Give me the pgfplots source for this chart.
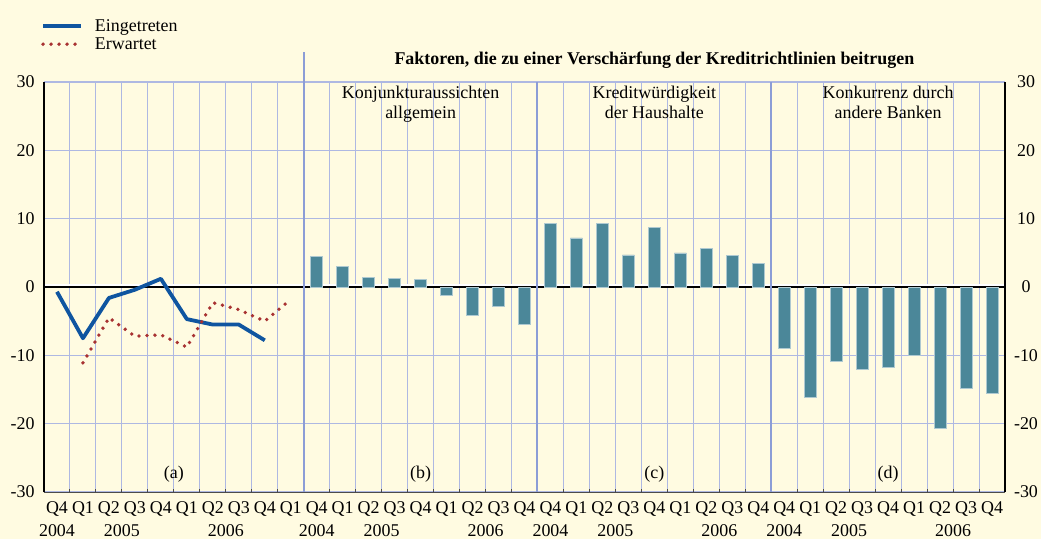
\documentclass[border=0pt]{standalone}
\usepackage{fontspec}
\setmainfont{Liberation Serif}
\usepackage{pgfplots}
\pgfplotsset{compat=1.18}

\definecolor{bg}{HTML}{FFFBE1}
\definecolor{gridblue}{HTML}{AEB8E2}
\definecolor{sepblue}{HTML}{8C9DD6}
\definecolor{barteal}{HTML}{4B8799}
\definecolor{lineblue}{HTML}{0F55A0}
\definecolor{dotred}{HTML}{A83232}

\newcommand\fs{\fontsize{18}{20}\selectfont}

\begin{document}
\begin{tikzpicture}
\fill[bg] (0,0) rectangle (1041bp,539bp);
\useasboundingbox (0,0) rectangle (1041bp,539bp);
\begin{axis}[
  at={(44bp,47bp)}, anchor=south west,
  scale only axis, width=961bp, height=410bp,
  xmin=0, xmax=37, ymin=-30, ymax=30,
  clip=false,
  axis line style={draw=none},
  /pgf/number format/assume math mode=true,
  xtick={0.5,1.5,...,36.5},
  xticklabels={Q4,Q1,Q2,Q3,Q4,Q1,Q2,Q3,Q4,Q1,
               Q4,Q1,Q2,Q3,Q4,Q1,Q2,Q3,Q4,
               Q4,Q1,Q2,Q3,Q4,Q1,Q2,Q3,Q4,
               Q4,Q1,Q2,Q3,Q4,Q1,Q2,Q3,Q4},
  minor xtick={0,1,...,37},
  xminorgrids,
  minor x grid style={gridblue, line width=1bp},
  xtick pos=left,
  major tick length=0pt,
  minor tick length=3bp,
  every minor tick/.style={gray!60!black, line width=1bp},
  ytick={-30,-20,...,30},
  ymajorgrids,
  major y grid style={gridblue, line width=1.3bp},
  xticklabel style={font=\fs, yshift=-6bp},
  yticklabel style={font=\fs, xshift=-6bp},
  legend style={at={(0,1)}, anchor=south west, xshift=-6bp, yshift=27bp,
                draw=none, fill=none, font=\fs, row sep=1bp, column sep=10bp},
  legend cell align=left,
  legend image code/.code={\draw[#1] (0bp,0bp) -- (38bp,0bp);},
]
% zero line
\addplot[white, line width=4bp, forget plot] coordinates {(0,0.15) (37,0.15)};
\addplot[black, line width=1.1bp, forget plot] coordinates {(0,0) (37,0)};

% bars (b) Konjunktur, (c) Haushalte, (d) Konkurrenz
\addplot[ybar, bar shift=0pt, bar width=0.46, fill=barteal,
         draw=white!55!barteal, line width=0.6bp, forget plot]
  coordinates {
    (10.5,4.5) (11.5,3.0) (12.5,1.4) (13.5,1.3) (14.5,1.1)
    (15.5,-1.2) (16.5,-4.1) (17.5,-2.8) (18.5,-5.4)
    (19.5,9.3) (20.5,7.2) (21.5,9.25) (22.5,4.7) (23.5,8.7)
    (24.5,5.0) (25.5,5.7) (26.5,4.6) (27.5,3.5)
    (28.5,-9.0) (29.5,-16.2) (30.5,-10.8) (31.5,-12.1) (32.5,-11.8)
    (33.5,-10.0) (34.5,-20.7) (35.5,-14.8) (36.5,-15.6)
  };

% (a) lines
\addplot[lineblue, line width=3.8bp, line join=round]
  coordinates {
    (0.5,-0.7) (1.5,-7.5) (2.5,-1.6) (3.5,-0.4) (4.5,1.2)
    (5.5,-4.7) (6.5,-5.5) (7.5,-5.5) (8.5,-7.8)
  };
\addlegendentry{Eingetreten}
\addplot[dotred, line width=3.8bp, line cap=round, dash pattern=on 0bp off 8bp]
  coordinates {
    (1.5,-11.1) (2.5,-4.5) (3.5,-7.2) (4.5,-7.0) (5.5,-8.8)
    (6.5,-2.3) (7.5,-3.3) (8.5,-5.0) (9.5,-1.8)
  };
\addlegendentry{Erwartet}

% axis lines
\draw[black, line width=1.2bp] (axis cs:0,-30) -- (axis cs:0,30);
\draw[black, line width=1.2bp] (axis cs:37,-30) -- (axis cs:37,30);
\draw[gray!60!black, line width=1bp] (axis cs:0,-30) -- (axis cs:37,-30);
% panel separators
\draw[sepblue, line width=2bp] (axis cs:10,-30) -- (axis cs:10,34.4);
\draw[sepblue, line width=2bp] (axis cs:19,-30) -- (axis cs:19,30);
\draw[sepblue, line width=2bp] (axis cs:28,-30) -- (axis cs:28,30);

% right tick labels
\pgfplotsinvokeforeach{-30,-20,-10,0,10,20,30}{
  \node[font=\fs] at (axis cs:37,#1) [xshift=21bp] {#1};
}

% title and panel titles
\node[font=\fontsize{18}{20}\selectfont\bfseries, anchor=base]
  at (axis cs:23.5,30) [yshift=18bp]
  {Faktoren, die zu einer Verschärfung der Kreditrichtlinien beitrugen};
\node[font=\fs, align=center, anchor=north] at (axis cs:14.5,30) [yshift=-1bp]
  {Konjunkturaussichten\\allgemein};
\node[font=\fs, align=center, anchor=north] at (axis cs:23.5,30) [yshift=-1bp]
  {Kreditwürdigkeit\\der Haushalte};
\node[font=\fs, align=center, anchor=north] at (axis cs:32.5,30) [yshift=-1bp]
  {Konkurrenz durch\\andere Banken};

% panel labels
\node[font=\fs] at (axis cs:5,-27.4) {(a)};
\node[font=\fs] at (axis cs:14.5,-27.4) {(b)};
\node[font=\fs] at (axis cs:23.5,-27.4) {(c)};
\node[font=\fs] at (axis cs:32.5,-27.4) {(d)};

% year labels
\pgfplotsinvokeforeach{0.5,10.5,19.5,28.5}{
  \node[font=\fs] at (axis cs:#1,-30) [yshift=-39bp] {2004};
}
\pgfplotsinvokeforeach{3,13,22,31}{
  \node[font=\fs] at (axis cs:#1,-30) [yshift=-39bp] {2005};
}
\pgfplotsinvokeforeach{7,17,26,35}{
  \node[font=\fs] at (axis cs:#1,-30) [yshift=-39bp] {2006};
}
\end{axis}
\end{tikzpicture}
\end{document}
